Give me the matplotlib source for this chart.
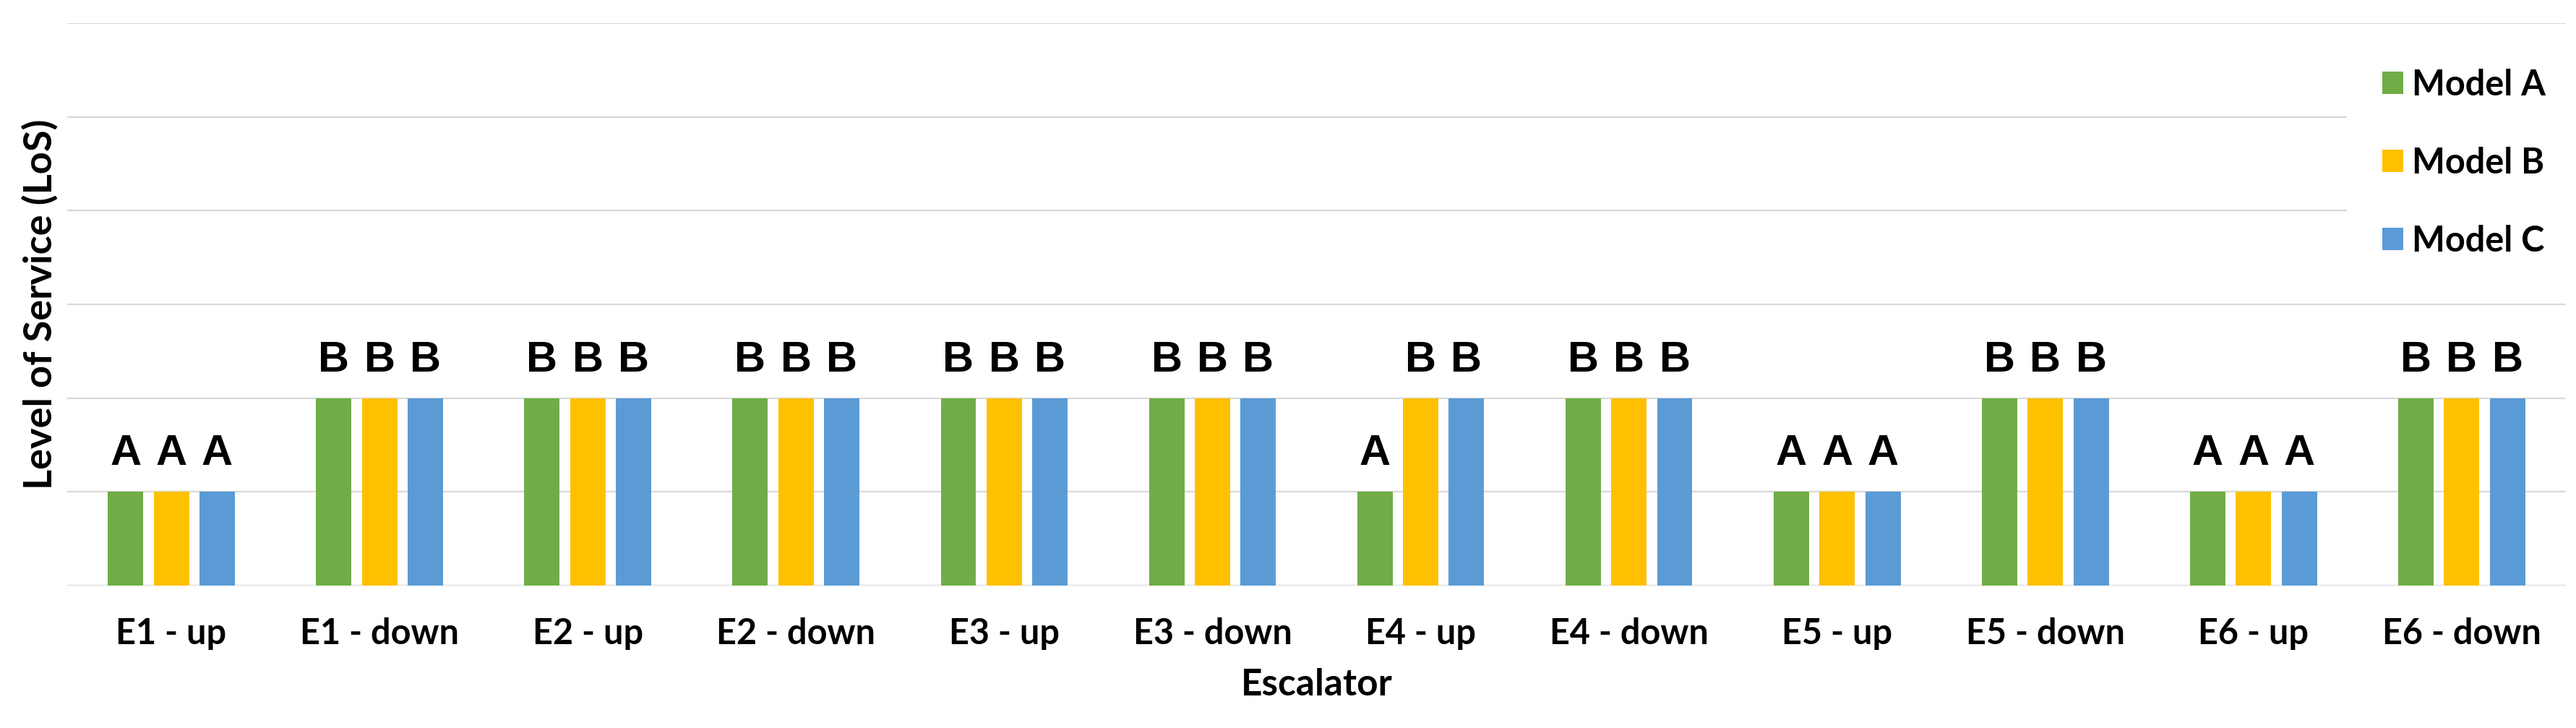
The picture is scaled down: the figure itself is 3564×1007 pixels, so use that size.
import matplotlib
matplotlib.use("Agg")
import matplotlib.pyplot as plt
import numpy as np

# data: LoS letters mapped to levels (A=1, B=2)
escalators = ["E1 - up", "E1 - down", "E2 - up", "E2 - down", "E3 - up", "E3 - down",
              "E4 - up", "E4 - down", "E5 - up", "E5 - down", "E6 - up", "E6 - down"]
model_a = ["A", "B", "B", "B", "B", "B", "A", "B", "A", "B", "A", "B"]
model_b = ["A", "B", "B", "B", "B", "B", "B", "B", "A", "B", "A", "B"]
model_c = ["A", "B", "B", "B", "B", "B", "B", "B", "A", "B", "A", "B"]
series_names = ["Model A", "Model B", "Model C"]
level_of = {"A": 1, "B": 2, "C": 3, "D": 4, "E": 5, "F": 6}

colors = ["#70AD47", "#FFC000", "#5B9BD5"]
grid_color = "#D9D9D9"

W, H = 3564, 1007
fig = plt.figure(figsize=(W / 100, H / 100), dpi=100)
ax = fig.add_axes([93 / W, (H - 810) / H, (3550 - 93) / W, (810 - 32) / H])

x = np.arange(len(escalators))
width = 0.17   # bar width
step = 0.22    # distance between bars in a group

for i, (name, letters) in enumerate(zip(series_names, [model_a, model_b, model_c])):
    vals = [level_of[l] for l in letters]
    rects = ax.bar(x + (i - 1) * step, vals, width, color=colors[i], label=name, zorder=2)
    ax.bar_label(rects, labels=letters, padding=18, fontsize=43, fontweight="bold",
                 family="Liberation Sans")

ax.set_xlim(-0.5, len(escalators) - 0.5)
ax.set_ylim(0, 6)
ax.set_yticks(np.arange(0, 7))
ax.yaxis.grid(True, color=grid_color, linewidth=1.6, zorder=0)
ax.set_axisbelow(True)
ax.tick_params(axis="y", left=False, labelleft=False)
ax.tick_params(axis="x", bottom=False, pad=28)
for s in ax.spines.values():
    s.set_visible(False)

ax.set_xticks(x, escalators, fontsize=35, fontweight="bold", family="Lato")
ax.set_xlabel("Escalator", fontsize=37, fontweight="bold", family="Lato", labelpad=18)
ax.set_ylabel("Level of Service (LoS)", fontsize=39, fontweight="bold", family="Lato", labelpad=9)

leg = ax.legend(loc="upper left", bbox_to_anchor=(3247 / W, 1 - 46 / H),
                bbox_transform=fig.transFigure, frameon=True, fancybox=False,
                facecolor="white", edgecolor="none", framealpha=1.0,
                borderpad=1.0, borderaxespad=0.0, handlelength=0.6, handleheight=0.6,
                handletextpad=0.25, labelspacing=1.3,
                prop={"family": "Lato", "weight": "bold", "size": 35})

fig.savefig("out.png", dpi=100, facecolor="white")
